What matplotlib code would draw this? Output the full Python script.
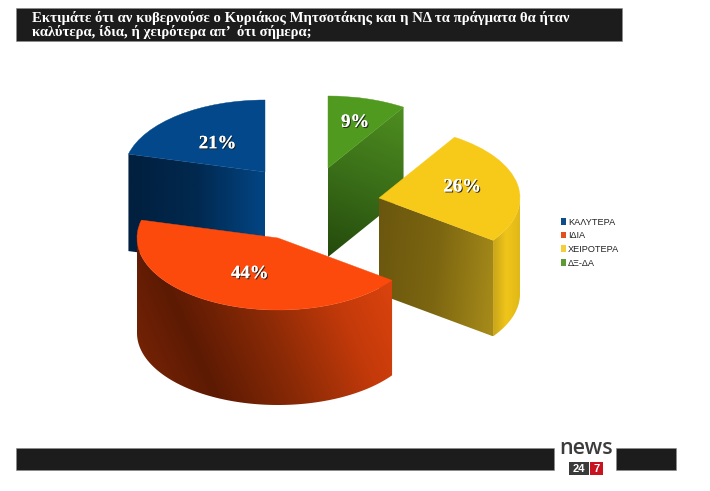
import numpy as np
import matplotlib
matplotlib.use("Agg")
import matplotlib.pyplot as plt
import matplotlib.patheffects as pe
from matplotlib.colors import LinearSegmentedColormap
from matplotlib.patches import Wedge, Rectangle, Patch, Polygon
from matplotlib.transforms import Affine2D

# data
categories = ["ΚΑΛΥΤΕΡΑ", "ΙΔΙΑ", "ΧΕΙΡΟΤΕΡΑ", "ΔΞ-ΔΑ"]
shares = [21, 44, 26, 9]
labels = ["21%", "44%", "26%", "9%"]
title_lines = ["Εκτιμάτε ότι αν κυβερνούσε ο Κυριάκος Μητσοτάκης και η ΝΔ τα πράγματα θα ήταν",
               "καλύτερα, ίδια, ή χειρότερα απ’  ότι σήμερα;"]

# style
top_colors = ["#02488A", "#FB4A0C", "#F7C918", "#4F9A1F"]
legend_colors = ["#0F4C8A", "#E2501F", "#F5CF3A", "#5E9A35"]
centers = [(265, 172), (278, 238), (379, 198), (328, 168)]
rx, ry = 141, 72
depths = [97, 95, 96, 89]
draw_order = [0, 3, 2, 1]
label_r = [0.55, 0.47, 0.6, 0.69]
label_dy = [3, 5, -3, 2]
cut_grad = [
    (["#011F3E", "#01294F", "#034584"], (1, 0)),
    (["#7a2505", "#7a2505"], (1, 0)),
    (["#6A560E", "#7C6611", "#A88C1A"], (1, 0.1)),
    (["#4E8E20", "#3A6E18", "#244A0C"], (-0.4, 1)),
]
arc_grad = [
    (["#011F3E", "#034584"], (1, 0)),
    (["#7E2606", "#5C1A03", "#8A2A06", "#C43A0A", "#E2460F"], (1, -0.45)),
    (["#C9A51A", "#F0C51A", "#E0B818"], (1, 0)),
    (["#234A0C", "#3A6E18"], (1, 0)),
]

fig = plt.figure(figsize=(7.10, 4.91), dpi=100, facecolor="white")
ax = fig.add_axes([0, 0, 1, 1])
ax.set_xlim(0, 710)
ax.set_ylim(491, 0)
ax.axis("off")


def grad_fill(pts, stops, direction, z):
    pts = np.asarray(pts)
    x0, y0 = pts.min(axis=0)
    x1, y1 = pts.max(axis=0)
    xs, ys = np.meshgrid(np.linspace(x0, x1, 200), np.linspace(y0, y1, 200))
    t = xs * direction[0] + ys * direction[1]
    t = (t - t.min()) / (t.max() - t.min())
    cmap = LinearSegmentedColormap.from_list("g", stops)
    im = ax.imshow(t, cmap=cmap, extent=(x0, x1, y1, y0), aspect="auto",
                   zorder=z, interpolation="bilinear")
    poly = Polygon(pts, closed=True, transform=ax.transData, fill=False, lw=0)
    ax.add_patch(poly)
    im.set_clip_path(poly)
    ax.set_xlim(0, 710)
    ax.set_ylim(491, 0)


def project(i, ang):
    c = centers[i]
    return np.array([c[0] + rx * np.cos(np.radians(ang)),
                     c[1] - ry * np.sin(np.radians(ang))])


def extrude(seg, d):
    seg = np.asarray(seg)
    return np.vstack([seg, seg[::-1] + [0, d]])


edges = 90 + np.concatenate([[0], np.cumsum(shares)]) * 3.6
for rank, i in enumerate(draw_order):
    z = 2 + rank * 2
    a0, a1 = edges[i], edges[i + 1]
    c = np.array(centers[i], float)
    d = depths[i]
    # straight cut walls that face the viewer
    for ang, reverse in ((a0, False), (a1, True)):
        p = project(i, ang)
        dx = (c[0] - p[0]) if reverse else (p[0] - c[0])
        if dx > 1:
            grad_fill(extrude([c, p], d), cut_grad[i][0], cut_grad[i][1], z)
    # curved outer wall, only where it faces the viewer
    angs = np.linspace(a0, a1, 160)
    s = np.sin(np.radians(angs))
    if np.any(s < 0):
        vis = angs[s < 0]
        seg = np.array([project(i, a) for a in vis])
        grad_fill(extrude(seg, d), arc_grad[i][0], arc_grad[i][1], z + 0.5)
    # top face
    tr = Affine2D().scale(rx, -ry).translate(*c) + ax.transData
    ax.add_patch(Wedge((0, 0), 1, a0, a1, transform=tr, fc=top_colors[i],
                       ec=top_colors[i], lw=0.3, zorder=z + 1))

# data labels
for i, lab in enumerate(labels):
    mid = (edges[i] + edges[i + 1]) / 2
    p = centers[i] + (project(i, mid) - centers[i]) * label_r[i]
    ax.text(p[0], p[1] + label_dy[i], lab, ha="center", va="center", color="white",
            family="Liberation Serif", weight="bold", fontsize=13.5, zorder=30,
            path_effects=[pe.withSimplePatchShadow(offset=(0.8, -0.8), shadow_rgbFace="#222222", alpha=0.9),
                          pe.Normal()])

# legend
handles = [Patch(fc=col, ec="none", label=cat) for col, cat in zip(legend_colors, categories)]
leg = ax.legend(handles=handles, loc="upper left", bbox_to_anchor=(558 / 710, 1 - 215 / 491),
                bbox_transform=ax.transAxes, frameon=False,
                prop={"family": "Liberation Sans", "size": 6.6},
                handlelength=0.6, handleheight=0.75, handletextpad=0.2, labelspacing=0.5,
                labelcolor="#222222", borderpad=0.3, borderaxespad=0)

# header and footer
bar = "#1C1C1C"
ax.add_patch(Rectangle((16, 8), 606, 33, fc=bar, ec="#8a8a8a", lw=0.4, zorder=1))
ax.text(32, 17.5, title_lines[0], color="white", family="Liberation Serif", weight="bold",
        fontsize=10.6, va="center", ha="left", zorder=3)
ax.text(32, 32, title_lines[1], color="white", family="Liberation Serif", weight="bold",
        fontsize=10.6, va="center", ha="left", zorder=3)
ax.add_patch(Rectangle((16, 448), 538, 21.5, fc=bar, ec="#8a8a8a", lw=0.4, zorder=1))
ax.add_patch(Rectangle((616, 448), 60, 21.5, fc=bar, ec="#8a8a8a", lw=0.4, zorder=1))

# logo
ax.text(586, 449, "news", color="#3C3C3C", family="Open Sans", weight="semibold", fontsize=15.5,
        ha="center", va="center", zorder=3)
ax.add_patch(Rectangle((569, 462), 20, 13, fc="#3A3A3A", ec="none", zorder=2))
ax.add_patch(Rectangle((590, 462), 13, 13, fc="#C8141E", ec="none", zorder=2))
ax.text(579, 468.5, "24", color="white", family="Liberation Sans", weight="bold", fontsize=8,
        ha="center", va="center", zorder=3)
ax.text(596.5, 468.5, "7", color="white", family="Liberation Sans", weight="bold", fontsize=8,
        ha="center", va="center", zorder=3)

fig.savefig("out.png", dpi=100)
